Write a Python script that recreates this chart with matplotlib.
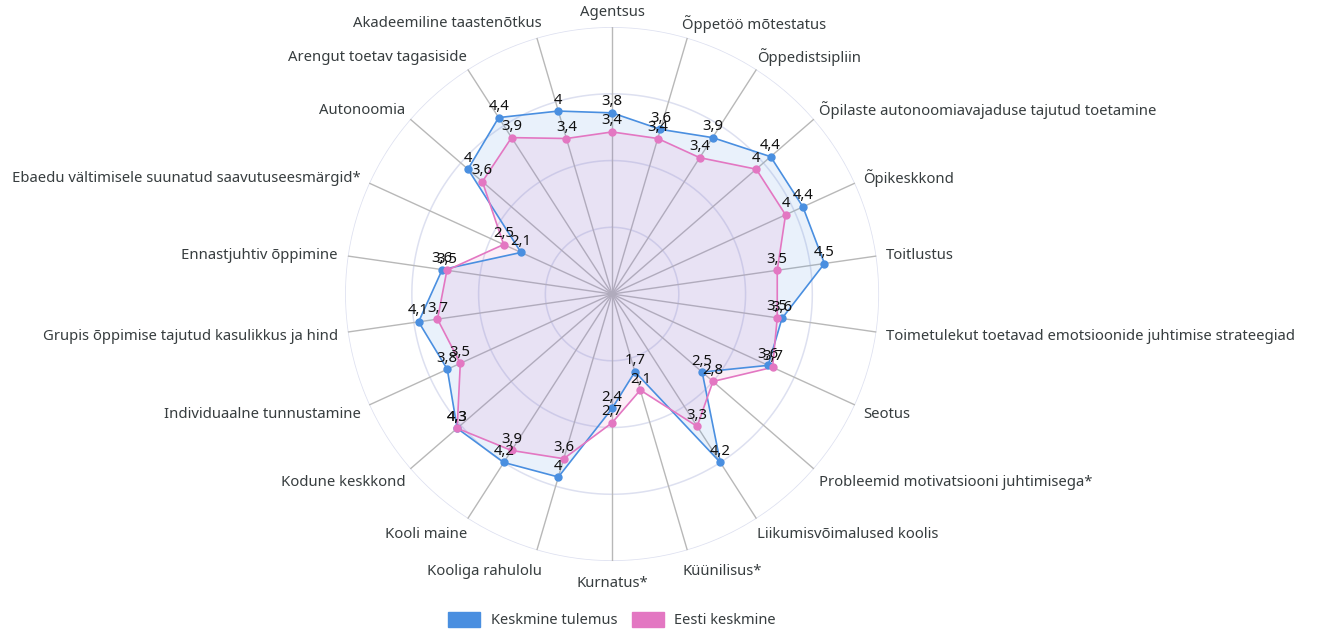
import numpy as np
import matplotlib
matplotlib.use("Agg")
import matplotlib.pyplot as plt
from matplotlib.patches import FancyBboxPatch, Patch

plt.rcParams['font.family'] = ['Noto Sans', 'DejaVu Sans']

categories = [
    "Agentsus", "Õppetöö mõtestatus", "Õppedistsipliin",
    "Õpilaste autonoomiavajaduse tajutud toetamine", "Õpikeskkond", "Toitlustus",
    "Toimetulekut toetavad emotsioonide juhtimise strateegiad", "Seotus",
    "Probleemid motivatsiooni juhtimisega*", "Liikumisvõimalused koolis",
    "Küünilisus*", "Kurnatus*", "Kooliga rahulolu", "Kooli maine",
    "Kodune keskkond", "Individuaalne tunnustamine",
    "Grupis õppimise tajutud kasulikkus ja hind", "Ennastjuhtiv õppimine",
    "Ebaedu vältimisele suunatud saavutuseesmärgid*", "Autonoomia",
    "Arengut toetav tagasiside", "Akadeemiline taastenõtkus",
]
keskmine = [3.8, 3.6, 3.9, 4.4, 4.4, 4.5, 3.6, 3.6, 2.5, 4.2, 1.7,
            2.4, 4.0, 4.2, 4.3, 3.8, 4.1, 3.6, 2.1, 4.0, 4.4, 4.0]
eesti = [3.4, 3.4, 3.4, 4.0, 4.0, 3.5, 3.5, 3.7, 2.8, 3.3, 2.1,
         2.7, 3.6, 3.9, 4.3, 3.5, 3.7, 3.5, 2.5, 3.6, 3.9, 3.4]
series_names = ["Keskmine tulemus", "Eesti keskmine"]
rings = [1.4, 2.8, 4.2, 5.6]

blue = "#4a8fe0"
pink = "#e377c2"
rmax = rings[-1]


def fmt(v):
    s = ("%.1f" % v).rstrip("0").rstrip(".")
    return s.replace(".", ",")


n = len(categories)
theta = np.arange(n) * 2 * np.pi / n

fig = plt.figure(figsize=(13.19, 6.35), dpi=100)
ax = fig.add_axes([0.2616, 0.1165, 0.4049, 0.8409], projection="polar")
ax.set_theta_zero_location("N")
ax.set_theta_direction(-1)
ax.set_ylim(0, rmax)
ax.grid(False)
ax.spines["polar"].set_visible(False)
ax.set_xticks([])
ax.set_yticks([])
ax.patch.set_alpha(0)

# rings and spokes
circ = np.linspace(0, 2 * np.pi, 400)
for r in rings:
    ax.plot(circ, [r] * len(circ), color="#dde0f0", lw=1.1, zorder=1)
for t in theta:
    ax.plot([t, t], [0, rmax], color="#b8b8b8", lw=1.0, zorder=1)

for vals, col in [(keskmine, blue), (eesti, pink)]:
    tt = np.append(theta, theta[0])
    vv = np.append(vals, vals[0])
    ax.fill(tt, vv, color=col, alpha=0.12, zorder=2, lw=0)
    ax.plot(tt, vv, color=col, lw=1.2, zorder=3)
    ax.plot(theta, vals, "o", color=col, ms=5, zorder=4)

for vals in [keskmine, eesti]:
    for t, v in zip(theta, vals):
        ax.annotate(fmt(v), xy=(t, v), xytext=(0, 11), textcoords="offset pixels",
                    ha="center", va="center", fontsize=10.7, color="#111111", zorder=5)

# category labels
for t, lab in zip(theta, categories):
    s, c = np.sin(t), np.cos(t)
    dy = 17 * c - 2 if c > -0.9 else 17 * c - 5
    if abs(s) < 0.05:
        ha, dx = "center", 0
    elif s > 0:
        ha, dx = "left", 21 * s - 10.8
    else:
        ha, dx = "right", -(21 * abs(s) - 10.8)
    ax.annotate(lab, xy=(t, rmax), xytext=(dx, dy), textcoords="offset pixels",
                ha=ha, va="center", fontsize=10.7, color="#373d3f",
                annotation_clip=False)

handles = [Patch(facecolor=blue, edgecolor=blue), Patch(facecolor=pink, edgecolor=pink)]
fig.legend(handles, series_names, loc="center", bbox_to_anchor=(0.464, 0.024),
           ncol=2, frameon=False, fontsize=10.5, handlelength=2.2, handleheight=1.2,
           columnspacing=1.0, handletextpad=0.7, labelcolor="#373d3f")

fig.savefig("out.png", dpi=100, facecolor="white")
